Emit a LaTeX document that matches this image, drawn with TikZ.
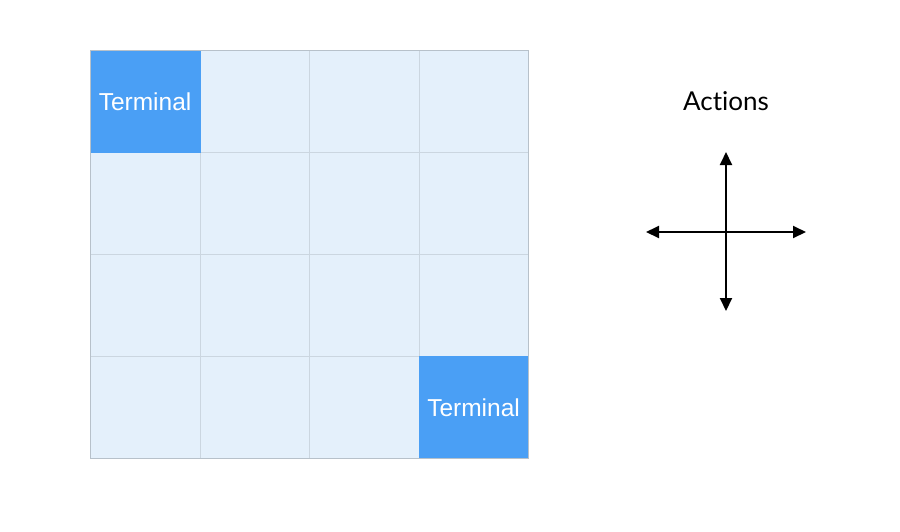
\documentclass[tikz,border=0pt]{standalone}
\usepackage{fontspec}
\setmainfont{Liberation Sans}
\newfontfamily\actfont[Ligatures=NoCommon]{Lato}
\usetikzlibrary{arrows.meta}
\definecolor{cellbg}{HTML}{E4F0FB}
\definecolor{gridln}{HTML}{CBD6E0}
\definecolor{termbg}{HTML}{4A9FF5}
\tikzset{
  cell/.style={draw=gridln, fill=cellbg, line width=0.6pt, minimum width=109.5pt, minimum height=102pt, inner sep=0pt, anchor=north west},
  term/.style={cell, fill=termbg, draw=termbg, text=white, font=\fontsize{24.5}{28}\selectfont},
  act/.style={-{Triangle[length=13pt,width=12pt]}, line width=2pt, black}
}
\begin{document}
\begin{tikzpicture}[x=1pt,y=-1pt]
\useasboundingbox (0,0) rectangle (900,531);
\foreach \i in {0,...,3}{
  \foreach \j in {0,...,3}{
    \node[cell] (c\i\j) at ({90+109.5*\i},{50+102*\j}) {};
  }
}
\node[term] (t1) at (90,50) {Terminal};
\node[term] (t2) at (418.5,356) {Terminal};
\draw[gridln!90!black, line width=0.6pt] (c00.north west) rectangle (c33.south east);
\node[font=\actfont\fontsize{26}{30}\selectfont] (actions) at (726,101) {Actions};
\coordinate (ctr) at (726,232);
\coordinate (up) at (726,152);
\coordinate (down) at (726,311);
\coordinate (left) at (646,232);
\coordinate (right) at (806,232);
\draw[act] (ctr) -- (up);
\draw[act] (ctr) -- (down);
\draw[act] (ctr) -- (left);
\draw[act] (ctr) -- (right);
\end{tikzpicture}
\end{document}
